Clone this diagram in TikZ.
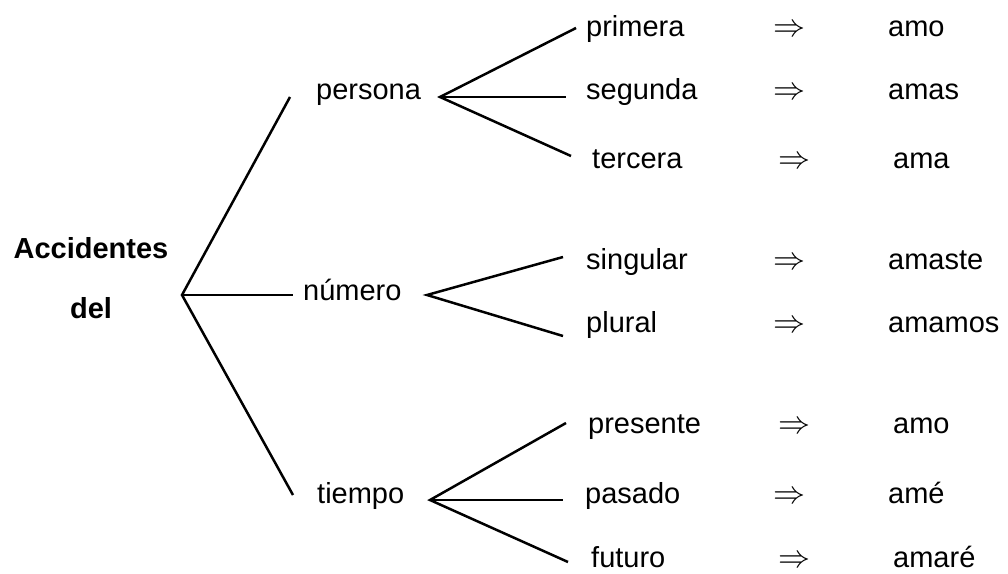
\documentclass[tikz,border=0pt]{standalone}
\usepackage{graphicx}
\usepackage{fontspec}
\setmainfont{Liberation Sans}
\newcommand{\bigimp}{\resizebox{32pt}{!}{$\Rightarrow$}}
\begin{document}
\begin{tikzpicture}[x=1pt,y=-1pt,
  lbl/.style={anchor=base west,inner sep=0pt,font=\fontsize{29}{34}\selectfont},
  bold/.style={anchor=base,inner sep=0pt,font=\fontsize{29}{34}\selectfont\bfseries},
  conn/.style={line width=2.5pt}]
\useasboundingbox (0,0) rectangle (1008,573);
% title
\node[bold] (acc) at (91,258) {Accidentes};
\node[bold] (del) at (91,318) {del};
% level 1
\node[lbl] (persona) at (316,99) {persona};
\node[lbl] (numero) at (303,300) {número};
\node[lbl] (tiempo) at (317,503) {tiempo};
% level 2
\node[lbl] (primera) at (586,36) {primera};
\node[lbl] (segunda) at (586,99) {segunda};
\node[lbl] (tercera) at (592,168) {tercera};
\node[lbl] (singular) at (586,269) {singular};
\node[lbl] (plural) at (586,332) {plural};
\node[lbl] (presente) at (588,433) {presente};
\node[lbl] (pasado) at (585,503) {pasado};
\node[lbl] (futuro) at (591,567) {futuro};
% arrows
\node[lbl] (a1) at (773,36) {\bigimp};
\node[lbl] (a2) at (773,99) {\bigimp};
\node[lbl] (a3) at (778,168) {\bigimp};
\node[lbl] (a4) at (773,269) {\bigimp};
\node[lbl] (a5) at (773,332) {\bigimp};
\node[lbl] (a6) at (778,433) {\bigimp};
\node[lbl] (a7) at (773,503) {\bigimp};
\node[lbl] (a8) at (778,567) {\bigimp};
% forms
\node[lbl] (f1) at (888,36) {amo};
\node[lbl] (f2) at (888,99) {amas};
\node[lbl] (f3) at (893,168) {ama};
\node[lbl] (f4) at (888,269) {amaste};
\node[lbl] (f5) at (888,332) {amamos};
\node[lbl] (f6) at (893,433) {amo};
\node[lbl] (f7) at (888,503) {amé};
\node[lbl] (f8) at (893,567) {amaré};
% connector points
\coordinate (r) at (182,295);
\coordinate (rp) at (290,97);
\coordinate (rn) at (293,295);
\coordinate (rt) at (293,495);
\coordinate (vp) at (440,97);
\coordinate (vp1) at (576,28);
\coordinate (vp2) at (566,97);
\coordinate (vp3) at (571,156);
\coordinate (vn) at (427,295);
\coordinate (vn1) at (563,257);
\coordinate (vn2) at (563,336);
\coordinate (vt) at (430,500);
\coordinate (vt1) at (566,423);
\coordinate (vt2) at (563,500);
\coordinate (vt3) at (568,562);
% connectors
\draw[conn] (rp) -- (r) -- (rt);
\draw[conn] (r) -- (rn);
\draw[conn] (vp1) -- (vp) -- (vp3);
\draw[conn] (vp) -- (vp2);
\draw[conn] (vn1) -- (vn) -- (vn2);
\draw[conn] (vt1) -- (vt) -- (vt3);
\draw[conn] (vt) -- (vt2);
\end{tikzpicture}
\end{document}
